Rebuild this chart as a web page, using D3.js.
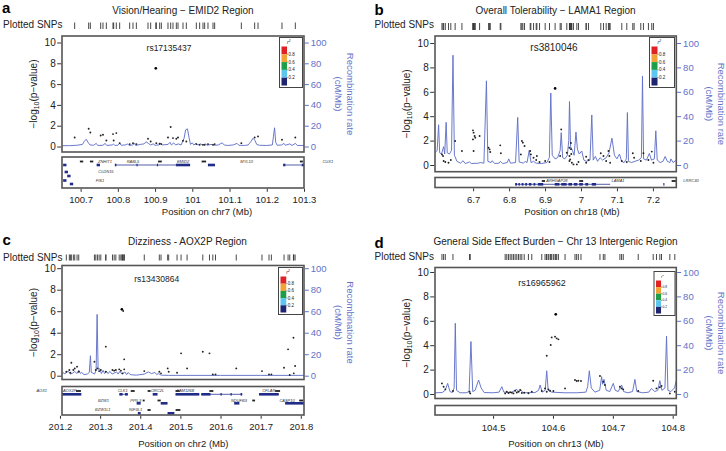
<!DOCTYPE html>
<html><head><meta charset="utf-8">
<script src="https://cdn.jsdelivr.net/npm/d3@7"></script>
<style>
body{margin:0;background:#fff}
svg{display:block}
text{font-family:"Liberation Sans",Arial,Helvetica,sans-serif;fill:#222}
</style>
</head><body>
<svg id="chart" width="726" height="451"></svg>
<script>
// ---------------- DATA ----------------
const yTicks = [0, 2, 4, 6, 8, 10];
const rTicks = [0, 20, 40, 60, 80, 100];
const legendLabels = ["0.8", "0.6", "0.4", "0.2"];
const legendColors = ["#df2226", "#f2a236", "#1f9e4a", "#5cc6ee", "#1f2470"];

// Panel a
const domainA = [100.65, 101.3];
const ticksA = [100.7, 100.8, 100.9, 101, 101.1, 101.2, 101.3];
const leadA = [100.902, 7.52];
const snpsA = [[100.684,0.87],[100.7216,1.71],[100.7261,1.35],[100.7539,1.06],[100.7601,1.13],[100.7691,0.58],[100.787,1.19],[100.7959,1.29],[100.7888,0.58],[100.8049,0.32],[100.8318,0.23],[100.8407,0.32],[100.8497,0.23],[100.881,0.74],[100.8882,0.48],[100.9034,0.32],[100.9123,0.26],[100.9168,0.23],[100.9347,0.87],[100.9419,1.87],[100.9481,0.81],[100.9571,0.74],[100.9616,0.87],[100.975,0.55],[100.9839,0.48],[101.0108,0.23],[101.0197,0.16],[101.0287,0.16],[101.0332,0.16],[101.0421,0.23],[101.0556,0.16],[101.06,0.23],[101.1317,0.32],[101.1675,0.87],[101.1765,0.97],[101.2409,0.65],[101.2767,0.87]];
const recombA = [[100.650,0.8],[100.670,0.8],[100.690,1.2],[100.705,2],[100.710,5],[100.715,7],[100.720,4],[100.725,1.5],[100.735,1.2],[100.742,3],[100.746,1],[100.760,1.2],[100.766,3],[100.770,1],[100.785,1.5],[100.788,2.5],[100.792,1],[100.800,1.2],[100.805,3],[100.809,1.2],[100.820,1.5],[100.826,2.5],[100.830,1],[100.840,1.5],[100.845,3],[100.848,1],[100.860,2],[100.870,2.5],[100.876,4.5],[100.882,3],[100.888,1.5],[100.895,2.5],[100.900,1.2],[100.910,1.5],[100.915,3],[100.920,1.5],[100.935,2],[100.940,4],[100.944,1.5],[100.950,3.5],[100.955,1.5],[100.962,2.5],[100.970,1.5],[100.978,8],[100.982,16],[100.987,17],[100.991,9],[100.995,2],[101.000,3.5],[101.004,1.5],[101.010,3],[101.015,1.5],[101.022,2.5],[101.028,1.5],[101.035,2.5],[101.040,1.2],[101.050,2],[101.060,1.2],[101.070,1.5],[101.080,3.5],[101.086,1.5],[101.095,1],[101.110,1.5],[101.120,3],[101.125,1.2],[101.140,1],[101.150,1.5],[101.158,5],[101.163,8],[101.168,6],[101.173,2],[101.180,1.2],[101.200,1],[101.215,1.5],[101.218,10],[101.221,18],[101.224,4],[101.228,1.2],[101.240,1.5],[101.246,3],[101.250,1.2],[101.262,2.5],[101.268,1],[101.277,3],[101.282,1],[101.300,1]];
const geneLabelsA = [["ZNHIT1",100.7655,0],["RABL5",100.8407,0],["EMID2",100.975,0],["MYL10",101.146,0],["CUX1",101.364,0],["CLDN15",100.768,2],["FIS1",100.752,4]];
const geneMarksA = [[100.698,100.707,0],[100.725,100.734,0],[100.908,100.918,0],[101.025,101.037,0],[101.289,101.297,0]];
const geneLinesA = [[100.792,100.994,1],[101.244,101.3,1]];
const geneExonsA = [[100.653,100.662,1],[100.743,100.752,1],[100.792,100.796,1],[100.85,100.853,1],[100.905,100.908,1],[100.956,100.994,1],[101.042,101.061,1],[101.244,101.25,1],[101.294,101.3,1],[100.657,100.666,2],[100.664,100.673,3],[100.653,100.662,4],[100.671,100.680,5]];

// Panel b
const domainB = [6.594, 7.265];
const ticksB = [6.7, 6.8, 6.9, 7, 7.1, 7.2];
const leadB = [6.928, 6.28];
const snpsB = [[6.6134,0.87],[6.6163,0.74],[6.6181,0.33],[6.6227,0.25],[6.6316,0.19],[6.638,0.41],[6.650,1.97],[6.6689,1.15],[6.6995,2.84],[6.7013,2.65],[6.7041,2.38],[6.706,2.24],[6.6995,2.1],[6.7013,1.15],[6.718,2.38],[6.743,1.42],[6.7458,1.28],[6.7476,1.07],[6.7754,1.61],[6.7772,0.96],[6.8328,0.87],[6.8356,1.97],[6.8383,1.83],[6.843,1.56],[6.8587,1.15],[6.8606,0.87],[6.868,0.6],[6.8754,0.41],[6.8773,0.74],[6.8847,0.25],[6.9004,0.33],[6.9124,0.25],[6.942,0.74],[6.945,2.92],[6.9605,1.01],[6.968,1.42],[6.968,0.74],[6.968,0.33],[6.970,0.46],[6.972,1.8],[6.972,1.3],[6.973,0.9],[6.9746,0.19],[6.979,0.05],[6.9884,0.05],[6.993,0.25],[7.0143,0.68],[7.0208,0.41],[7.0143,0.19],[7.055,0.96],[7.0625,0.74],[7.070,0.33],[7.0763,1.15],[7.0788,0.74],[7.081,0.19],[7.1134,0.33],[7.1273,0.25],[7.144,0.96],[7.1477,0.6],[7.1662,0.33],[7.1736,0.96],[7.1875,0.41],[7.1968,1.1],[7.2014,0.19]];
const recombB = [[6.594,10],[6.600,12],[6.604,33],[6.607,10],[6.612,9],[6.618,15],[6.621,9],[6.625,35],[6.628,10],[6.634,9],[6.640,12],[6.644,90],[6.648,8],[6.655,3],[6.665,1.5],[6.672,3.5],[6.678,1.2],[6.690,2.5],[6.695,1.2],[6.715,1.5],[6.720,2],[6.730,1.5],[6.737,69],[6.741,3],[6.750,2],[6.753,3.5],[6.760,1.2],[6.772,1.5],[6.776,3],[6.782,1.2],[6.795,2],[6.799,5],[6.804,1.5],[6.818,2],[6.824,39],[6.828,2.5],[6.840,1.5],[6.845,3],[6.850,2],[6.856,12],[6.861,2],[6.868,3],[6.875,1.5],[6.890,1.2],[6.905,2],[6.912,6],[6.916,59],[6.920,8],[6.928,5],[6.935,6],[6.942,12],[6.945,26.5],[6.949,6],[6.955,5],[6.962,8],[6.966,20],[6.968,52],[6.971,15],[6.976,12],[6.981,8],[6.986,27],[6.990,13],[6.995,9],[7.002,11.5],[7.008,4],[7.015,3],[7.025,4],[7.030,41],[7.034,4],[7.040,7],[7.046,3],[7.053,6],[7.060,4],[7.070,6],[7.078,10],[7.086,22],[7.093,8],[7.100,5],[7.107,9],[7.113,3],[7.120,2],[7.126,5],[7.129,43],[7.132,3],[7.140,2],[7.150,3],[7.160,4],[7.168,6],[7.171,73],[7.174,5],[7.182,4],[7.190,9.5],[7.196,4],[7.204,5],[7.208,28],[7.212,4],[7.220,2],[7.228,3],[7.234,7],[7.240,3],[7.247,2],[7.250,5],[7.256,2],[7.265,4]];
const geneLabelsB = [["ARHGAP28",6.933,0],["LAMA1",7.103,0],["LRRC30",7.306,0]];
const geneMarksB = [[6.891,6.900,0],[6.995,7.006,0],[7.252,7.264,0]];
const geneLinesB = [[6.817,7.081,1]];
const geneExonsB = [[6.817,6.822,1],[6.826,6.830,1],[6.835,6.84,1],[6.845,6.85,1],[6.855,6.862,1],[6.868,6.873,1],[6.88,6.895,1],[6.927,6.94,1],[6.945,6.96,1],[6.965,6.975,1],[6.98,6.99,1],[6.995,7.005,1],[7.012,7.02,1],[7.03,7.042,1],[7.229,7.232,1]];

// Panel c
const domainC = [201.205, 201.808];
const ticksC = [201.2, 201.3, 201.4, 201.5, 201.6, 201.7, 201.8];
const leadC = [201.3542, 6.17];
const snpsC = [[201.2158,0.37],[201.2233,0.53],[201.2258,0.28],[201.2283,1.21],[201.2333,0.53],[201.2367,0.68],[201.2425,0.84],[201.2467,0.37],[201.2858,1.3],[201.2892,0.53],[201.2933,0.68],[201.2975,0.43],[201.3017,0.53],[201.3142,2.70],[201.3142,0.37],[201.3308,0.53],[201.335,0.47],[201.3392,0.53],[201.3475,0.59],[201.3517,0.47],[201.3575,6.02],[201.3558,0.22],[201.36,1.52],[201.36,0.59],[201.41,0.43],[201.4475,0.37],[201.4517,0.22],[201.4683,0.68],[201.4708,0.37],[201.4917,0.28],[201.5017,2.08],[201.5167,0.68],[201.5558,2.23],[201.5725,2.08],[201.5808,0.12],[201.5875,0.12],[201.6392,0.68],[201.7033,0.43],[201.7208,0.12],[201.7267,0.12],[201.7583,0.74],[201.7683,2.45],[201.7725,0.06],[201.7817,3.53],[201.7825,0.22],[201.7858,0.9]];
const recombC = [[201.205,1],[201.208,3],[201.212,1.5],[201.217,3.5],[201.221,4],[201.226,1.5],[201.232,2.5],[201.237,4],[201.242,2],[201.247,5],[201.251,2],[201.254,3],[201.260,1],[201.268,1.5],[201.273,3],[201.2758,18.6],[201.278,3],[201.282,2.5],[201.286,1.5],[201.290,5],[201.2925,57],[201.295,6],[201.299,6.5],[201.303,2],[201.3075,5],[201.311,2],[201.3158,4],[201.320,2],[201.3242,4],[201.330,1.5],[201.3408,3.5],[201.345,1.5],[201.3492,4],[201.355,1.5],[201.3617,3.5],[201.366,1],[201.37,3],[201.375,1],[201.39,0.5],[201.41,1.5],[201.42,3.5],[201.428,2],[201.4367,3],[201.441,1],[201.445,2],[201.452,0.5],[201.47,0.3],[201.6,0.3],[201.7,0.3],[201.808,0.3]];
const geneLabelsC = [["AOX1",201.1546,0],["AOX2P",201.224,0],["CLK1",201.3563,0],["ORC2L",201.4432,0],["FAM126B",201.5127,0],["CFLAR",201.7203,0],["BZW1",201.3084,2],["PPIL3",201.3886,2],["NDUFB3",201.6459,2],["CASP10",201.7658,2],["BZW1L1",201.3067,4],["NIF3L1",201.3886,4]];
const geneMarksC = [[201.2397,201.2521,0],[201.3762,201.3861,0],[201.4184,201.4258,0],[201.4878,201.4978,0],[201.5722,201.5821,0],[201.736,201.7484,0],[201.406,201.411,2],[201.443,201.451,2],[201.679,201.686,2],[201.796,201.806,2],[201.418,201.426,4],[201.488,201.5,4]];
const geneLinesC = [[201.205,201.253,1],[201.348,201.369,1],[201.488,201.547,1],[201.552,201.654,1],[201.696,201.745,1],[201.761,201.808,3]];
const geneExonsC = [[201.205,201.253,1],[201.348,201.356,1],[201.362,201.369,1],[201.431,201.443,1],[201.488,201.547,1],[201.552,201.575,1],[201.6,201.603,1],[201.625,201.628,1],[201.65,201.654,1],[201.696,201.745,1],[201.391,201.401,3],[201.451,201.468,3],[201.634,201.647,3],[201.761,201.808,3],[201.394,201.401,5],[201.468,201.485,5]];

// Panel d
const domainD = [104.403, 104.806];
const ticksD = [104.5, 104.6, 104.7, 104.8];
const leadD = [104.6047, 6.53];
const snpsD = [[104.4146,0.87],[104.4174,0.60],[104.4202,0.38],[104.4330,0.25],[104.4607,0.19],[104.4618,0.05],[104.5202,0.05],[104.5229,0.19],[104.5257,0.08],[104.5285,0.14],[104.5313,0.11],[104.5340,0.05],[104.5368,0.27],[104.5396,0.12],[104.5424,0.19],[104.5452,0.33],[104.5480,0.08],[104.5520,0.1],[104.5590,0.06],[104.5646,0.19],[104.5813,0.25],[104.5868,0.46],[104.5896,3.14],[104.5896,0.19],[104.5924,0.38],[104.5952,0.27],[104.5963,4.02],[104.5979,4.64],[104.6007,0.25],[104.6035,4.70],[104.6063,4.56],[104.6091,4.48],[104.6202,0.46],[104.6368,1.15],[104.6396,1.07],[104.6424,1.09],[104.6468,1.07],[104.6785,1.48],[104.6841,1.01],[104.6868,0.74],[104.7118,0.60],[104.7146,0.46],[104.7174,0.38],[104.7424,0.25],[104.7674,1.09],[104.7729,0.46],[104.7785,0.55],[104.7813,0.66],[104.7952,0.05],[104.8035,0.19]];
const recombD = [[104.403,1],[104.415,1.2],[104.420,3],[104.4241,8.7],[104.428,2],[104.432,1.2],[104.435,5],[104.4369,58],[104.439,3],[104.445,1],[104.455,1],[104.460,2],[104.4630,43],[104.466,2],[104.470,3],[104.4758,11.5],[104.480,5],[104.485,1.2],[104.500,1],[104.510,1.5],[104.5146,6],[104.518,1.5],[104.530,1.2],[104.5397,3.8],[104.543,1.5],[104.5463,3.5],[104.550,1],[104.570,1.2],[104.576,3],[104.5786,7.4],[104.582,1.5],[104.587,3],[104.5896,19],[104.592,3],[104.598,1.5],[104.620,1],[104.640,1],[104.655,1.5],[104.658,6],[104.6607,19],[104.664,5],[104.670,1.5],[104.678,3],[104.6813,14.2],[104.683,8],[104.6852,12],[104.689,3],[104.695,2],[104.7007,8.7],[104.704,3],[104.709,2],[104.7146,7.4],[104.718,2],[104.725,1],[104.733,2],[104.7369,12],[104.740,2],[104.750,1],[104.760,1.5],[104.7646,4.6],[104.770,2],[104.775,3],[104.7785,10.9],[104.782,3],[104.787,5],[104.7897,47.5],[104.792,3],[104.797,2],[104.803,5],[104.806,11]];

// ---------------- PANELS ----------------
const panels = [
  {letter:"a", title:"Vision/Hearing \u2212 EMID2 Region", leadName:"rs17135437", lead:leadA, snps:snpsA, recomb:recombA, domain:domainA, ticks:ticksA, xLabel:"Position on chr7 (Mb)",
   gl:geneLabelsA, gm:geneMarksA, gi:geneLinesA, ge:geneExonsA,
   L:{letter:[2,13], title:[183,14], rugLab:[3,28], rug:[22.5,29], box:[62,304,36,152], y0:146.5, y10:42.5, gene:[157,188], levels:[161.5,165,172,176,180.5,184], xTickY:203, xLab:[207,215], yLab:33, rec:[350,338], leadLab:[169,51], leadFs:8.5, legend:[279.5,37.5,23,50], legFs:4.5}},
  {letter:"b", title:"Overall Tolerability \u2212 LAMA1 Region", leadName:"rs3810046", lead:leadB, snps:snpsB, recomb:recombB, domain:domainB, ticks:ticksB, xLabel:"Position on chr18 (Mb)",
   gl:geneLabelsB, gm:geneMarksB, gi:geneLinesB, ge:geneExonsB,
   L:{letter:[374.5,15], title:[555.5,14], rugLab:[374.5,28], rug:[23,30], box:[435,676.3,36,171.7], y0:165, y10:43, gene:[177.5,187.5], levels:[181,184.3], xTickY:203, xLab:[572,215], yLab:406, rec:[721,709.5], leadLab:[554,51], leadFs:10, legend:[649.5,37.5,25,50], legFs:4.5}},
  {letter:"c", title:"Dizziness - AOX2P Region", leadName:"rs13430864", lead:leadC, snps:snpsC, recomb:recombC, domain:domainC, ticks:ticksC, xLabel:"Position on chr2 (Mb)",
   gl:geneLabelsC, gm:geneMarksC, gi:geneLinesC, ge:geneExonsC,
   L:{letter:[2.5,245], title:[187.5,245], rugLab:[3,261], rug:[254.5,260.5], box:[62,304,265.5,379.5], y0:375.7, y10:268.2, gene:[386.5,415], levels:[391,394.3,400.5,403.3,410,413.3], xTickY:430, xLab:[183.3,447], yLab:33, rec:[350,338], leadLab:[156.7,282], leadFs:8.5, legend:[278.5,267.5,24,47], legFs:4.5}},
  {letter:"d", title:"General Side Effect Burden \u2212 Chr 13 Intergenic Region", leadName:"rs16965962", lead:leadD, snps:snpsD, recomb:recombD, domain:domainD, ticks:ticksD, xLabel:"Position on chr13 (Mb)",
   gl:[], gm:[], gi:[], ge:[],
   L:{letter:[374.5,248], title:[555.5,245], rugLab:[374.5,260], rug:[254,260], box:[435,676.3,267.5,398.5], y0:394, y10:272, gene:[405.5,415], levels:[], xTickY:431, xLab:[556,447], yLab:406, rec:[721,709.5], leadLab:[542,286], leadFs:9, legend:[654,271.5,21,44], legFs:3.3}}
];

const svg = d3.select("#chart");
const REC = "#6272c8";
const FRAME = "#555";
let clipId = 0;

function drawPanel(P) {
  const L = P.L;
  const [bl, br, bt, bb] = L.box;
  const g = svg.append("g");
  const x = d3.scaleLinear().domain(P.domain).range([bl, br]);
  const y = d3.scaleLinear().domain([0, 10]).range([L.y0, L.y10]);
  const yr = d3.scaleLinear().domain([0, 100]).range([L.y0, L.y10]);

  g.append("text").attr("x", L.letter[0]).attr("y", L.letter[1]).attr("font-size", 15).attr("font-weight", "bold").style("fill", "#000").text(P.letter);
  g.append("text").attr("x", L.title[0]).attr("y", L.title[1]).attr("text-anchor", "middle").attr("font-size", 10).text(P.title);
  g.append("text").attr("x", L.rugLab[0]).attr("y", L.rugLab[1]).attr("font-size", 10).text("Plotted SNPs");

  // rug
  const allPos = P.snps.map(d => d[0]).concat([P.lead[0]]);
  g.append("g").selectAll("line").data(allPos).join("line")
    .attr("x1", d => x(d)).attr("x2", d => x(d))
    .attr("y1", L.rug[0]).attr("y2", L.rug[1])
    .attr("stroke", "#333").attr("stroke-width", 0.9);

  // clip
  const cid = "clip" + (clipId++);
  svg.append("clipPath").attr("id", cid).append("rect").attr("x", bl).attr("y", bt).attr("width", br - bl).attr("height", bb - bt);
  const plot = g.append("g").attr("clip-path", `url(#${cid})`);

  // recombination line
  const line = d3.line().x(d => x(d[0])).y(d => yr(d[1]));
  plot.append("path").datum(P.recomb).attr("d", line).attr("fill", "none").attr("stroke", REC).attr("stroke-width", 0.95);

  // points
  plot.append("g").selectAll("circle").data(P.snps).join("circle")
    .attr("cx", d => x(d[0])).attr("cy", d => y(d[1])).attr("r", 0.95).attr("fill", "#222");
  plot.append("circle").attr("cx", x(P.lead[0])).attr("cy", y(P.lead[1])).attr("r", 1.35).attr("fill", "#000");

  // frame
  g.append("rect").attr("x", bl).attr("y", bt).attr("width", br - bl).attr("height", bb - bt)
    .attr("fill", "none").attr("stroke", FRAME).attr("stroke-width", 1.6);

  // left axis
  const ax = g.append("g").attr("transform", `translate(${bl - 0.8},0)`)
    .call(d3.axisLeft(y).tickValues(yTicks).tickSize(4).tickPadding(1.5));
  ax.select(".domain").remove();
  ax.selectAll("text").attr("font-size", 10).style("fill", "#222").attr("font-family", null);
  ax.selectAll("line").attr("stroke", "#333");

  // right axis
  const ar = g.append("g").attr("transform", `translate(${br + 0.8},0)`)
    .call(d3.axisRight(yr).tickValues(rTicks).tickSize(4).tickPadding(2));
  ar.select(".domain").remove();
  ar.selectAll("text").attr("font-size", 9.5).style("fill", REC).attr("font-family", null);
  ar.selectAll("line").attr("stroke", REC);

  // axis labels
  const cy = (bt + bb) / 2;
  const yl = g.append("text").attr("transform", `translate(${L.yLab},${cy}) rotate(-90)`)
    .attr("text-anchor", "middle").attr("dominant-baseline", "central").attr("font-size", 10);
  yl.append("tspan").text("\u2212log");
  yl.append("tspan").attr("font-size", 7).attr("dy", 2.5).text("10");
  yl.append("tspan").attr("dy", -2.5).text("(p\u2212value)");
  g.append("text").attr("transform", `translate(${L.rec[0]},${cy}) rotate(90)`)
    .attr("text-anchor", "middle").attr("dominant-baseline", "central").attr("font-size", 9.5).style("fill", REC).text("Recombination rate");
  g.append("text").attr("transform", `translate(${L.rec[1]},${cy}) rotate(90)`)
    .attr("text-anchor", "middle").attr("dominant-baseline", "central").attr("font-size", 9.5).style("fill", REC).text("(cM/Mb)");

  // lead label
  g.append("text").attr("x", L.leadLab[0]).attr("y", L.leadLab[1]).attr("text-anchor", "middle").attr("font-size", L.leadFs).text(P.leadName);

  // legend
  const [lx, ly, lw, lh] = L.legend;
  const lg = g.append("g");
  lg.append("rect").attr("x", lx).attr("y", ly).attr("width", lw).attr("height", lh).attr("fill", "#fff").attr("stroke", "#444").attr("stroke-width", 1);
  const top = ly + 9, bot = ly + lh - 2, bh = (bot - top) / legendColors.length;
  lg.selectAll("rect.c").data(legendColors).join("rect").attr("class", "c")
    .attr("x", lx + 2).attr("y", (d, i) => top + i * bh).attr("width", lw * 0.24).attr("height", bh).attr("fill", d => d);
  lg.selectAll("text.l").data(legendLabels).join("text").attr("class", "l")
    .attr("x", lx + 2 + lw * 0.24 + 1.5).attr("y", (d, i) => top + (i + 1) * bh + L.legFs * 0.35)
    .attr("font-size", L.legFs).text(d => d);
  lg.selectAll("line.t").data(legendLabels).join("line").attr("class", "t")
    .attr("x1", lx + 2 + lw * 0.24).attr("x2", lx + 3.2 + lw * 0.24)
    .attr("y1", (d, i) => top + (i + 1) * bh).attr("y2", (d, i) => top + (i + 1) * bh)
    .attr("stroke", "#333").attr("stroke-width", 0.5);
  const rt = lg.append("text").attr("x", lx + 2 + lw * 0.24).attr("y", ly + 6).attr("font-size", L.legFs + 0.5).attr("font-style", "italic");
  rt.append("tspan").text("r");
  rt.append("tspan").attr("font-size", L.legFs * 0.7).attr("dy", -2).text("2");

  // gene track
  const [gt, gb] = L.gene;
  const gg = g.append("g");
  const cx = v => Math.max(bl, Math.min(br, x(v)));
  gg.selectAll("line.gi").data(P.gi).join("line").attr("class", "gi")
    .attr("x1", d => cx(d[0])).attr("x2", d => cx(d[1]))
    .attr("y1", d => L.levels[d[2]]).attr("y2", d => L.levels[d[2]])
    .attr("stroke", "#2a3590").attr("stroke-width", 0.8);
  gg.selectAll("rect.ge").data(P.ge).join("rect").attr("class", "ge")
    .attr("x", d => cx(d[0])).attr("width", d => Math.max(1, cx(d[1]) - cx(d[0])))
    .attr("y", d => L.levels[d[2]] - 1.3).attr("height", 2.6).attr("fill", "#202c88");
  gg.selectAll("rect.gm").data(P.gm).join("rect").attr("class", "gm")
    .attr("x", d => cx(d[0])).attr("width", d => Math.max(1, cx(d[1]) - cx(d[0])))
    .attr("y", d => L.levels[d[2]] - 0.9).attr("height", 1.8).attr("fill", "#222");
  gg.selectAll("text.gl").data(P.gl).join("text").attr("class", "gl")
    .attr("x", d => x(d[1])).attr("y", d => L.levels[d[2]] + 1.4)
    .attr("text-anchor", "middle").attr("font-size", 4).attr("font-style", "italic").style("fill", "#333").text(d => d[0]);
  g.append("rect").attr("x", bl).attr("y", gt).attr("width", br - bl).attr("height", gb - gt)
    .attr("fill", "none").attr("stroke", FRAME).attr("stroke-width", 1.6);

  // x axis
  const xa = g.append("g").attr("transform", `translate(0,${gb + 0.8})`)
    .call(d3.axisBottom(x).tickValues(P.ticks).tickSize(3).tickFormat(d => String(d)));
  xa.select(".domain").remove();
  xa.selectAll("line").attr("stroke", "#333");
  xa.selectAll("text").attr("font-size", 9.5).style("fill", "#222").attr("font-family", null)
    .attr("y", L.xTickY - gb - 0.8).attr("dy", 0);
  g.append("text").attr("x", L.xLab[0]).attr("y", L.xLab[1]).attr("text-anchor", "middle").attr("font-size", 9.5).text(P.xLabel);
}

panels.forEach(drawPanel);
</script>
</body></html>
